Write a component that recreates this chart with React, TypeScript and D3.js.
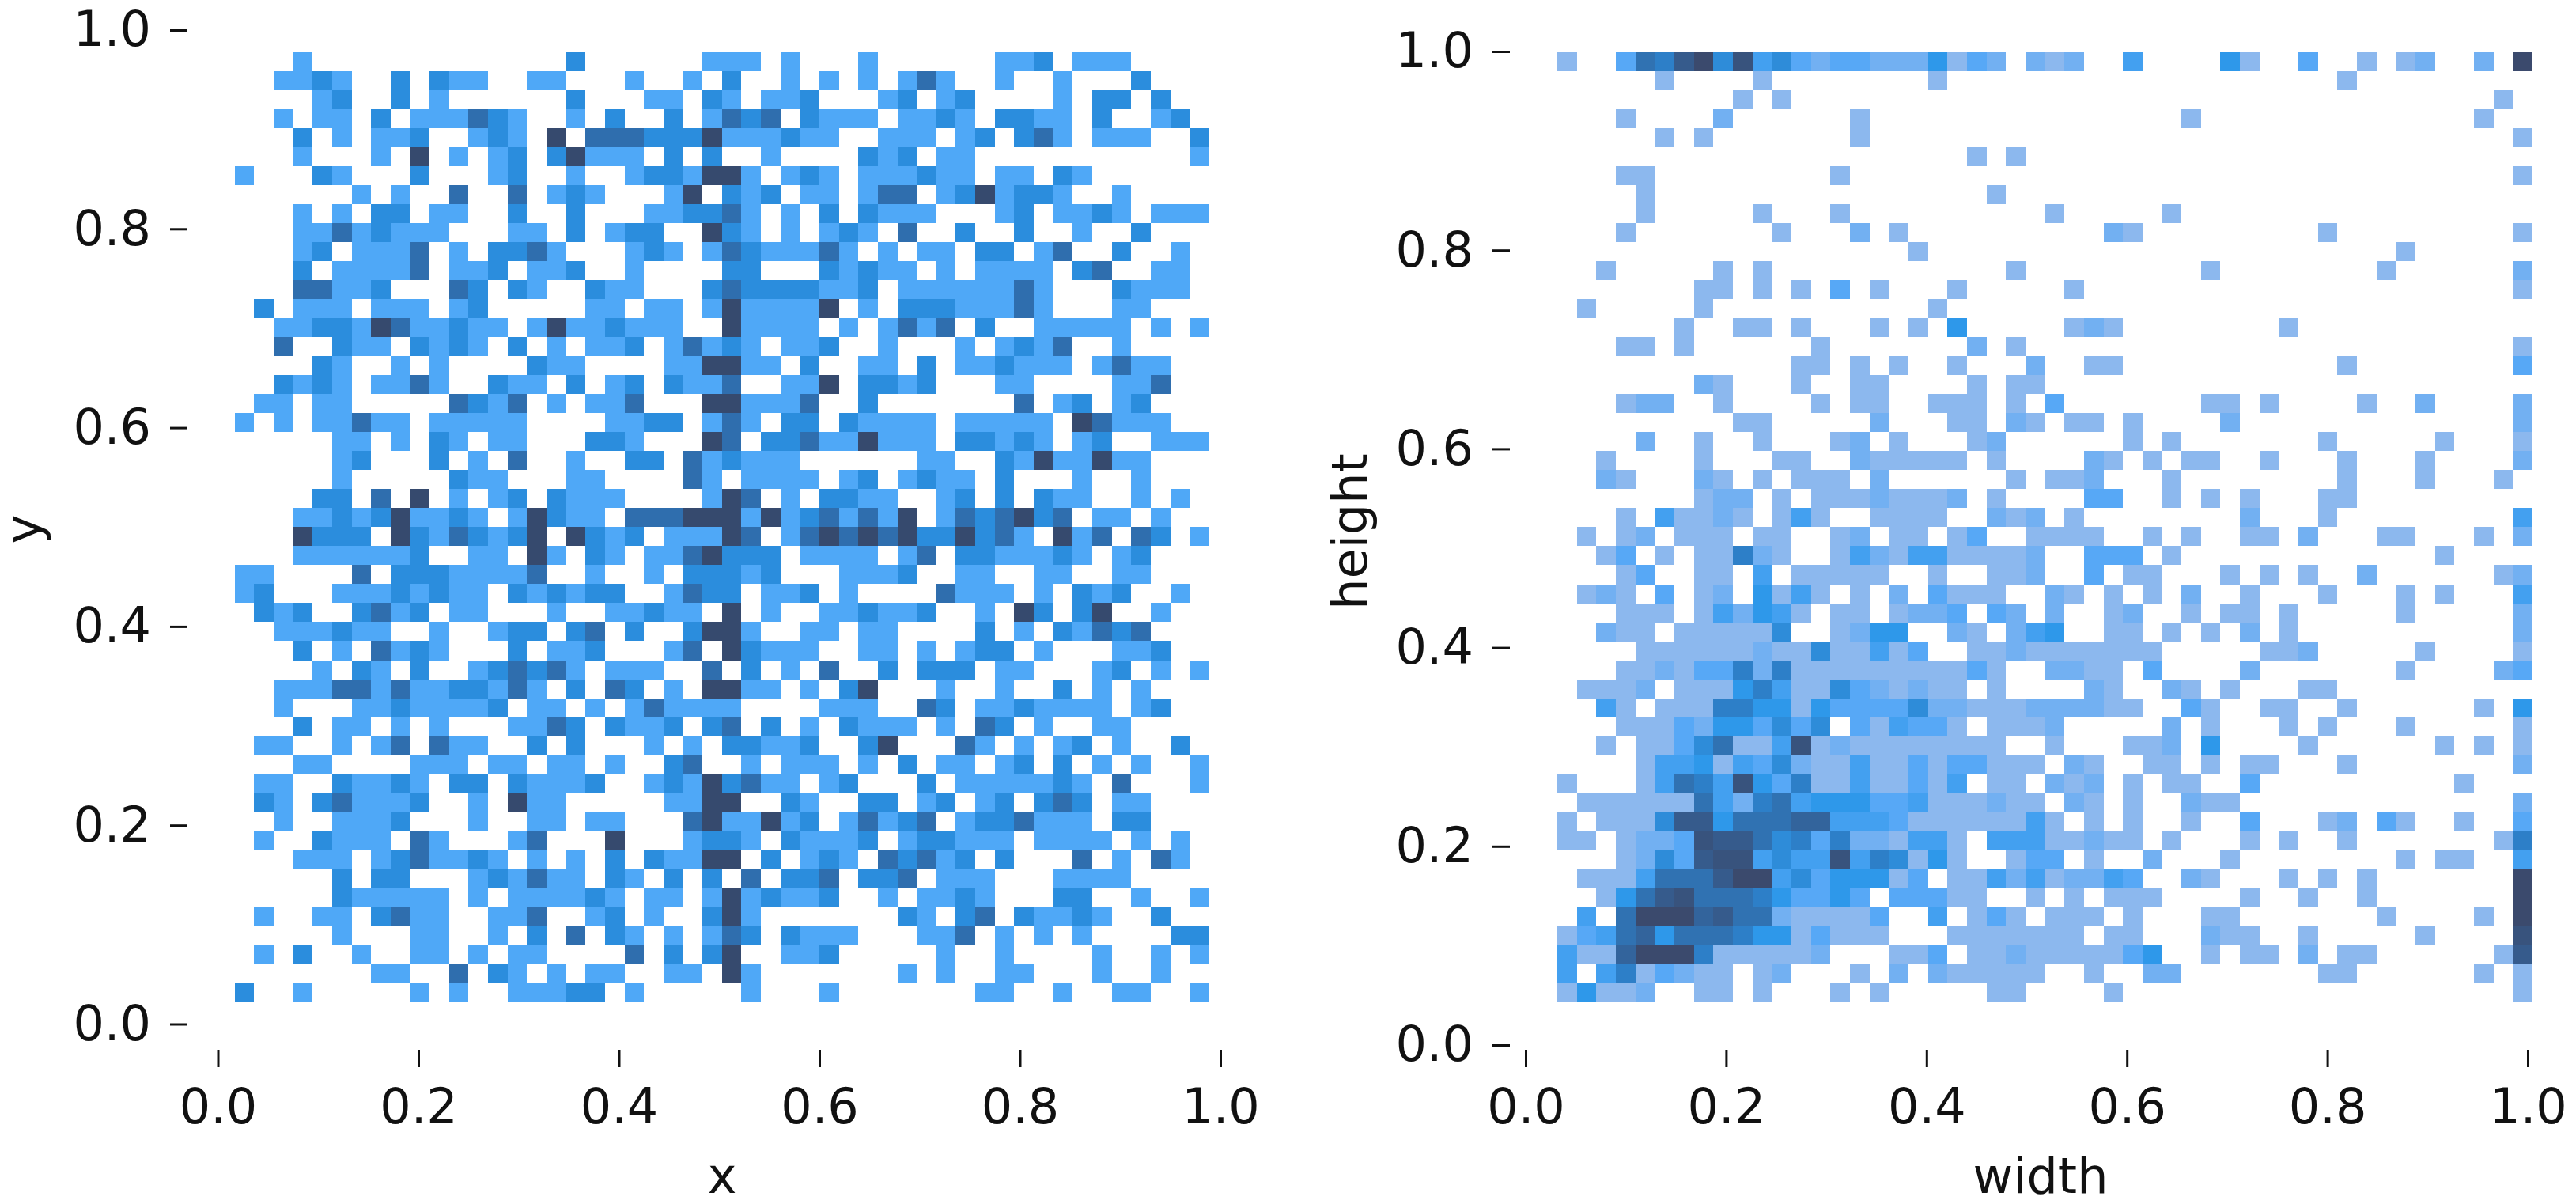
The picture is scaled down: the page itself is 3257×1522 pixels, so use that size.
import React, { useEffect, useRef } from "react";
import * as d3 from "d3";

// each row runs top to bottom, "column:count" for the non-empty bins
const xyRows = [
  "3:1 17:2 24:1 25:1 26:1 28:1 32:1 39:1 40:1 41:2 43:1 44:1 45:1",
  "2:1 3:1 4:2 5:1 8:2 10:2 11:1 12:1 15:1 16:1 20:1 23:1 25:2 28:1 30:1 32:1 34:1 35:3 36:1 39:1 42:1 46:2",
  "4:1 5:2 8:2 10:1 17:2 21:1 22:1 24:2 25:1 27:1 28:1 29:2 33:1 34:2 36:1 37:2 42:1 44:2 45:2 47:2",
  "2:1 4:1 5:1 7:2 9:1 10:1 11:1 12:3 13:2 14:1 17:1 19:2 22:2 24:1 25:3 26:2 27:3 29:2 30:1 31:1 32:1 34:1 35:1 36:2 37:1 39:2 40:2 41:1 42:1 44:2 47:1 48:2",
  "3:2 5:1 7:1 8:1 9:2 12:1 13:2 14:1 16:4 18:3 19:3 20:3 21:2 22:2 23:2 24:4 25:1 26:1 27:1 28:2 29:1 30:1 33:1 34:1 35:1 37:1 38:2 40:2 41:3 42:1 44:1 45:1 46:1 49:2",
  "3:1 7:1 9:4 11:1 13:1 14:2 16:2 17:4 18:1 19:1 20:1 22:2 24:2 27:1 32:2 33:1 34:2 36:1 37:1 49:1",
  "0:1 4:2 5:1 9:2 13:1 14:2 17:1 20:1 21:2 22:2 23:1 24:4 25:4 26:1 28:1 29:2 30:1 32:1 33:1 34:1 35:2 36:1 37:1 39:1 40:1 42:2 43:1",
  "6:1 8:1 11:3 14:3 16:1 17:2 18:1 22:1 23:4 25:2 26:1 27:2 29:1 30:1 32:1 33:3 34:3 36:1 37:2 38:4 39:1 40:2 41:2 42:1 45:1",
  "3:1 5:1 7:2 8:2 10:1 11:1 14:2 17:2 21:1 22:1 23:2 24:2 25:3 26:1 28:1 30:2 32:2 33:1 34:1 35:1 39:1 40:2 42:1 43:1 44:2 45:1 47:1 48:1 49:1",
  "3:1 4:1 5:3 6:1 7:2 8:1 9:1 10:1 14:1 15:1 17:2 19:1 20:2 21:2 24:4 25:2 26:1 28:1 30:1 31:2 32:1 34:3 37:2 40:2 43:1 46:2",
  "3:1 4:2 6:1 7:1 8:1 9:3 11:1 13:2 14:2 15:3 16:1 20:1 21:2 22:1 24:1 25:3 26:2 27:1 28:1 29:1 30:3 31:1 33:1 35:1 36:1 38:2 39:2 41:1 42:3 45:2 48:1",
  "3:2 5:1 6:1 7:1 8:1 9:3 11:1 12:1 13:2 15:1 16:1 17:2 20:1 25:2 26:2 30:2 31:1 32:2 33:1 34:1 36:1 38:1 39:1 40:1 41:1 43:2 44:3 47:1 48:1",
  "3:3 4:3 5:1 6:1 7:2 11:3 12:2 14:2 15:1 18:2 19:1 20:1 24:2 25:3 26:2 27:2 28:2 29:2 30:1 31:1 32:2 34:1 35:1 36:1 37:1 38:1 39:1 40:3 41:1 45:2 46:1 47:1 48:1",
  "1:2 3:1 4:1 5:1 7:1 8:1 9:1 11:1 12:2 18:1 19:1 21:1 22:1 24:1 25:4 26:1 27:1 28:1 29:1 30:4 32:1 34:2 35:2 36:2 37:1 38:1 39:1 40:3 41:1 45:1 46:1",
  "2:1 3:1 4:2 5:2 6:1 7:4 8:3 9:1 10:1 11:2 12:1 13:1 15:1 16:4 17:1 18:1 19:2 20:1 21:1 22:1 25:4 26:1 27:1 28:1 29:1 31:1 33:1 34:3 35:1 36:3 38:2 41:1 42:1 43:1 44:1 45:1 47:1 49:1",
  "2:3 5:2 6:1 7:1 9:2 10:1 11:2 12:1 14:2 16:1 18:1 19:1 20:2 22:1 23:3 24:1 25:2 26:1 28:1 29:1 30:2 33:1 37:1 39:1 40:2 41:1 42:3 45:1",
  "4:2 5:1 8:1 10:1 15:2 16:1 17:1 22:1 23:1 24:4 25:4 26:1 27:1 29:2 32:1 33:1 35:2 37:1 38:1 39:2 40:1 41:1 42:1 44:1 45:3 46:1 47:1",
  "2:2 3:1 4:2 5:1 7:1 8:1 9:3 10:1 13:2 14:1 15:1 17:2 19:1 20:2 22:2 23:1 24:1 25:3 28:1 29:1 30:4 32:2 33:2 34:1 35:2 39:1 40:1 45:1 46:1 47:3",
  "1:1 2:1 4:1 5:1 11:3 12:2 13:1 14:3 16:1 18:1 19:1 20:3 24:4 25:4 26:1 27:1 28:1 29:3 32:2 40:3 42:1 43:2 45:1 46:2",
  "0:1 2:1 4:1 5:1 6:3 7:1 8:1 10:1 11:1 12:1 13:1 14:1 19:1 20:1 21:2 22:2 24:1 25:3 26:1 28:2 29:2 31:2 32:1 33:1 34:1 35:1 37:1 38:1 39:1 40:1 41:1 43:4 44:3 45:1 46:1 47:1",
  "5:1 6:1 8:1 10:2 11:1 13:1 14:1 18:2 19:2 20:1 24:4 25:3 27:2 28:2 29:3 30:1 31:1 32:4 33:1 34:1 35:1 37:2 38:2 39:1 40:2 41:1 43:1 44:2 47:1 48:1 49:1",
  "5:1 6:2 10:2 12:1 14:3 17:1 20:2 21:2 23:3 24:1 25:2 26:1 27:1 28:1 35:1 36:1 39:2 40:1 41:4 42:1 43:1 44:4 45:1 46:1",
  "5:1 11:2 12:1 13:1 17:1 18:1 23:3 24:1 26:1 27:1 28:1 29:1 31:1 32:2 34:1 35:2 36:1 37:1 39:2 43:1 46:1",
  "4:2 5:2 7:3 9:4 11:1 13:1 14:2 16:2 17:1 18:1 19:1 24:1 25:4 26:3 28:1 30:2 31:2 32:1 33:1 36:1 37:2 39:2 41:2 42:1 43:1 46:1 48:1",
  "3:1 4:1 5:2 6:1 7:2 8:4 9:1 10:1 11:2 12:1 14:1 15:4 16:2 17:1 18:1 20:3 21:3 22:3 23:4 24:4 25:4 26:1 27:4 28:1 29:2 30:3 31:1 32:3 33:1 34:4 36:1 37:3 38:2 39:3 40:4 41:2 42:3 44:1 45:1 47:1",
  "3:4 4:2 5:2 6:2 8:4 9:2 10:1 11:3 12:2 13:1 14:2 15:4 17:4 18:2 19:1 20:2 22:1 23:1 24:1 25:4 26:3 28:1 29:3 30:4 31:3 32:4 33:3 34:4 35:2 36:2 37:4 38:2 39:3 40:1 42:4 43:1 44:3 46:3 47:2 49:1",
  "3:1 4:1 5:1 6:1 7:1 8:1 9:2 12:1 13:1 15:4 16:1 18:2 19:1 21:1 22:1 23:3 24:4 25:2 26:2 27:2 29:1 30:1 31:1 32:1 34:1 35:3 37:2 38:2 39:1 40:1 41:1 42:2 43:1 45:1 46:2",
  "0:1 1:1 6:3 8:2 9:2 10:2 11:1 12:1 13:1 14:1 15:3 18:1 21:1 23:2 24:2 25:2 26:1 27:2 31:1 32:1 33:1 34:2 37:1 38:1 41:1 42:1 45:1 46:1",
  "0:1 1:2 5:1 6:1 7:1 8:2 9:1 10:2 11:1 12:1 14:2 15:1 16:2 17:1 18:2 19:2 22:1 23:3 24:2 25:2 27:1 28:1 29:2 31:1 36:3 37:1 38:1 39:1 41:1 43:2 44:1 45:2 48:1",
  "1:2 2:1 3:2 6:2 7:3 8:1 9:2 11:1 12:1 16:1 19:1 20:1 21:2 22:1 23:1 25:4 27:1 30:1 31:1 32:2 33:1 34:1 35:2 38:1 40:4 41:2 43:2 44:4 47:1",
  "2:1 3:1 4:1 5:2 6:1 7:1 10:1 13:1 14:2 15:2 17:2 18:3 20:2 23:2 24:4 25:4 26:1 29:1 30:1 32:1 33:1 38:2 40:1 42:2 43:1 44:3 45:2 46:3",
  "3:2 5:1 7:3 8:1 9:2 10:1 14:2 16:1 17:1 18:2 22:1 23:3 25:4 26:2 27:1 28:1 29:1 32:1 33:1 35:1 37:1 38:2 39:2 41:1 45:1 46:1 47:2",
  "4:1 6:2 7:1 9:2 12:1 13:2 14:3 15:2 16:3 17:1 19:1 20:1 21:1 24:3 26:2 28:1 30:3 33:2 35:2 36:2 37:2 39:1 40:1 44:1 45:2 47:1 49:1",
  "2:1 3:1 4:1 5:3 6:3 7:1 8:3 9:1 10:1 11:2 12:2 13:1 14:3 15:1 17:2 19:3 20:2 22:1 24:4 25:4 26:1 27:1 29:1 31:2 32:4 36:1 39:1 42:2 44:1 46:1",
  "2:1 6:1 7:1 8:2 9:1 10:1 11:1 12:1 13:2 15:1 16:1 18:1 20:1 21:3 22:1 23:1 24:1 25:1 30:1 31:1 32:1 35:3 36:2 38:1 39:1 40:2 41:1 42:1 43:1 44:1 46:1 47:2",
  "3:2 5:1 6:1 8:1 10:1 14:1 15:1 16:3 17:2 19:2 20:1 21:1 22:2 24:2 25:3 27:2 29:1 31:2 32:1 33:1 34:1 36:1 38:3 39:2 41:1 44:1 45:1",
  "1:1 2:1 5:1 7:1 8:3 10:3 11:1 12:1 15:2 17:2 21:1 23:1 25:2 26:2 27:1 28:1 29:2 32:2 33:4 37:3 38:1 40:1 42:1 43:2 45:1 48:2",
  "3:1 4:1 9:1 10:1 11:1 13:1 14:1 16:1 17:1 19:1 22:2 23:3 26:1 28:1 29:1 30:1 32:1 34:2 36:1 37:1 39:1 40:2 42:2 44:1 46:1 49:1",
  "1:1 2:1 5:2 6:1 7:1 8:2 9:1 11:2 12:2 14:2 15:1 16:1 17:1 18:2 21:1 22:2 23:1 24:4 25:2 26:3 27:1 28:1 30:1 31:2 35:2 37:1 38:1 39:1 40:1 41:1 42:2 43:1 45:3 49:1",
  "1:2 2:1 4:2 5:3 6:1 7:1 8:1 9:2 12:1 14:4 15:1 16:1 22:1 23:1 24:4 25:4 28:2 29:1 32:2 33:2 35:1 36:2 38:1 39:2 41:2 42:3 43:2 45:1 46:1",
  "2:1 5:1 6:1 7:1 8:2 12:1 15:1 16:1 18:1 19:1 23:3 24:4 25:1 26:1 27:4 28:1 29:2 31:1 32:3 33:1 34:2 35:3 37:1 38:2 39:2 40:3 41:1 42:1 43:1 45:2 46:2",
  "1:1 4:2 5:1 6:1 7:1 9:3 10:1 14:1 15:3 19:4 23:1 24:2 25:2 26:1 28:2 29:1 30:1 31:1 32:2 34:1 35:2 36:2 37:1 38:1 39:1 41:1 42:1 43:1 44:1 46:1 48:1",
  "3:1 4:1 5:1 7:1 8:2 9:3 10:1 11:1 12:2 13:1 15:1 17:1 19:2 21:2 22:1 23:1 24:4 25:4 27:2 29:1 30:2 31:1 33:3 34:2 35:3 36:1 37:2 39:2 43:3 45:1 47:3 48:1",
  "5:2 7:2 8:2 12:1 13:2 14:1 15:3 16:1 17:1 19:2 20:1 22:2 24:2 26:3 28:2 29:2 30:3 32:2 33:2 34:3 36:1 37:1 38:1 42:1 43:1 44:1 45:1",
  "5:2 6:1 7:1 8:1 9:1 10:1 12:1 14:1 15:1 16:1 17:1 18:2 19:1 21:1 22:1 24:1 25:4 26:1 27:2 28:1 29:1 30:2 33:1 35:1 36:1 37:2 38:1 42:2 43:2 46:1 49:1",
  "1:1 4:1 5:1 7:2 8:3 9:1 10:1 13:1 14:1 15:3 18:1 19:2 21:1 24:2 25:4 26:1 34:2 35:1 37:2 38:3 40:2 41:1 42:1 43:2 44:1 47:2",
  "5:1 9:1 10:1 13:1 15:2 17:3 19:2 20:1 22:1 24:1 25:3 26:2 28:2 29:1 30:1 31:1 35:1 36:1 37:3 39:1 41:1 43:1 48:2 49:2",
  "1:1 3:2 6:1 9:1 10:1 12:1 14:1 15:1 20:3 22:2 24:2 25:4 28:1 29:1 30:2 36:1 39:1 44:1 47:1 49:1",
  "7:1 8:1 11:3 13:2 14:1 16:1 18:1 19:1 22:1 23:1 25:4 26:1 34:1 36:1 39:1 40:1 44:1 47:1",
  "0:2 3:1 9:1 11:1 14:1 15:1 16:1 17:2 18:2 20:1 26:1 30:1 38:1 39:1 42:1 45:1 46:1 49:1",
];

const sizeRows = [
  "0:1 3:3 4:8 5:7 6:10 7:12 8:6 9:11 10:4 11:6 12:3 13:2 14:3 15:3 16:2 17:2 18:2 19:5 20:1 21:3 22:2 24:2 25:1 26:2 29:4 34:5 35:1 38:3 41:1 43:1 44:2 47:2 49:12",
  "5:1 10:1 19:1 40:1",
  "9:1 11:1 48:1",
  "3:1 8:2 15:1 32:1 47:1",
  "5:1 7:1 15:1 49:1",
  "21:1 23:1",
  "3:1 4:1 14:1 49:1",
  "4:1 22:1",
  "4:1 10:1 14:1 25:1 31:1",
  "3:1 11:1 15:2 17:1 28:2 29:1 39:1 49:1",
  "18:1 43:1",
  "2:1 8:1 10:1 23:1 33:1 42:1 49:2",
  "7:1 8:1 10:1 12:1 14:3 16:1 20:1 26:1 49:1",
  "1:1 7:1 19:1",
  "6:1 9:1 10:1 12:1 16:1 18:1 20:5 26:1 27:2 28:1 37:1",
  "3:1 4:1 6:1 13:1 21:2 23:1 49:1",
  "12:1 13:1 15:1 17:1 20:1 24:2 27:1 28:1 40:1 49:3",
  "7:2 8:1 12:1 15:1 16:1 21:1 23:1 24:1",
  "3:1 4:2 5:2 8:1 13:1 15:1 16:1 19:1 20:1 21:1 23:1 25:3 33:1 34:1 36:1 41:1 44:2 49:2",
  "9:1 10:1 16:2 20:1 21:1 23:2 24:1 26:1 27:1 29:1 34:2 49:2",
  "4:2 7:1 10:1 14:1 15:2 17:1 21:1 22:2 29:1 31:1 39:1 45:1 49:1",
  "2:1 7:1 11:1 12:1 15:2 16:1 17:1 18:1 19:1 20:1 22:1 27:2 28:1 30:1 32:1 33:1 36:1 40:1 44:1 49:2",
  "2:2 3:1 7:2 8:1 10:1 12:1 13:1 14:1 16:2 23:1 25:1 26:1 27:2 31:1 40:1 44:1 48:1",
  "7:1 8:2 9:2 11:1 13:1 14:1 15:1 16:2 17:1 18:1 19:1 20:2 22:1 27:3 28:3 31:1 33:1 35:1 39:1 40:1",
  "3:1 5:4 6:1 7:1 8:2 9:1 11:1 12:4 13:1 16:1 17:1 18:1 19:1 22:2 23:1 24:2 26:1 35:2 39:1 49:4",
  "1:1 3:1 4:2 6:1 7:1 8:1 10:1 11:1 14:1 15:2 17:1 18:1 20:1 21:3 24:1 25:1 26:1 27:1 30:1 32:1 35:1 36:1 38:2 42:1 43:1 47:1 49:2",
  "2:1 3:3 5:1 7:1 8:1 9:7 10:2 11:1 14:1 15:4 16:2 17:1 18:4 19:4 20:1 21:1 22:1 23:1 24:2 27:3 28:3 29:3 31:1 45:1",
  "3:1 4:3 7:1 8:1 10:4 12:1 13:1 14:1 15:1 16:1 19:1 22:1 23:1 24:2 27:3 29:1 30:1 34:1 36:1 38:1 41:2 48:1 49:2",
  "1:1 2:2 3:1 5:3 7:1 8:2 10:5 11:1 12:4 13:1 15:1 17:2 19:3 20:1 21:1 22:1 25:2 26:1 28:1 30:1 32:2 35:1 39:1 43:1 45:1 49:4",
  "3:1 4:1 5:1 7:1 8:4 9:2 10:5 11:4 12:1 14:1 15:1 17:1 18:2 19:2 20:3 22:3 23:2 25:2 28:1 29:2 32:1 34:1 35:1 37:1 43:1 49:2",
  "2:2 3:1 4:1 6:1 7:1 8:1 9:1 10:1 11:6 14:1 15:2 16:5 17:5 20:2 21:1 23:2 24:4 25:5 28:1 29:1 31:1 33:1 35:2 37:1 49:2",
  "4:1 5:1 6:1 7:1 8:1 9:1 10:2 11:1 12:1 13:6 14:1 15:1 16:4 17:1 18:3 21:1 22:1 23:2 24:1 25:1 26:1 27:1 28:1 29:1 30:1 36:1 37:1 38:2 44:1 49:1",
  "3:1 4:1 5:2 6:1 7:3 8:3 9:7 10:2 11:7 12:1 13:1 14:1 15:1 16:1 17:1 18:1 19:1 20:1 21:3 22:1 25:2 26:2 27:1 28:1 30:3 35:2 43:1 48:2 49:3",
  "1:1 2:1 3:1 4:2 6:1 7:1 8:1 9:5 10:7 11:4 12:1 13:1 14:6 15:3 16:2 17:1 18:2 19:1 20:1 22:1 27:2 28:1 31:2 32:1 34:1 38:1 39:1",
  "2:4 3:1 5:1 6:1 7:1 8:7 9:7 10:5 11:5 12:1 13:5 14:3 15:3 16:3 17:3 18:6 19:2 20:2 21:1 22:1 23:1 24:2 25:2 26:2 27:2 28:1 29:1 32:3 33:1 36:1 37:1 40:1 47:1 49:5",
  "3:1 4:1 5:1 6:3 7:2 8:5 9:5 10:3 11:6 12:3 13:6 15:3 16:1 17:4 18:3 19:3 20:1 22:1 23:1 24:1 25:2 31:2 33:1 37:1 39:1 43:1 49:1",
  "2:1 4:1 5:1 6:3 7:6 8:8 9:1 10:1 11:4 12:11 13:1 14:2 15:1 16:1 17:1 18:1 19:1 20:1 21:1 22:1 25:1 29:1 30:1 31:2 33:5 38:1 45:1 47:1 49:1",
  "4:1 5:4 6:4 7:5 8:1 9:4 10:3 11:6 12:2 13:1 14:1 15:4 16:1 17:1 18:3 19:1 20:3 21:3 22:1 23:1 24:1 26:2 27:1 30:1 31:1 33:1 35:1 36:1 40:1 49:2",
  "0:1 4:1 5:4 6:8 7:7 8:4 9:11 10:5 11:3 12:7 13:1 14:1 15:4 16:1 17:1 18:3 19:1 20:4 22:1 23:1 25:2 26:1 27:2 29:1 31:1 32:1 35:3 46:1",
  "1:1 2:1 3:1 4:1 5:1 6:1 7:8 8:4 9:2 10:7 11:8 12:4 13:5 14:5 15:5 16:3 17:3 18:4 19:1 20:1 21:1 22:2 23:1 24:1 26:2 27:1 29:1 32:2 33:1 34:1 49:2",
  "0:1 2:1 3:1 4:1 5:6 6:10 7:10 8:5 9:8 10:8 11:8 12:9 13:9 14:4 15:4 16:4 17:3 18:1 19:1 20:1 21:1 22:1 23:1 24:4 25:1 27:1 29:1 32:1 35:3 39:1 40:2 42:3 43:1 46:1 49:3",
  "0:1 1:1 3:1 4:2 5:2 6:3 7:11 8:10 9:10 10:8 11:6 12:7 13:3 14:7 15:2 16:2 17:1 18:4 19:4 20:1 22:4 23:4 24:4 25:1 26:1 27:2 28:1 29:1 31:1 35:1 37:1 40:1 48:1 49:7",
  "3:1 4:2 5:6 6:3 7:10 8:11 9:11 10:4 11:6 12:4 13:4 14:11 15:4 16:7 17:6 18:1 19:5 20:1 23:1 24:3 25:3 27:1 30:2 34:1 43:1 45:1 46:1 49:4",
  "1:1 2:1 3:1 4:4 5:8 6:8 7:8 8:10 9:12 10:12 11:4 12:6 13:3 14:5 15:5 16:5 17:1 18:3 20:1 21:1 22:4 23:2 24:4 25:1 26:2 27:2 28:4 29:3 32:2 33:1 37:1 39:1 41:1 49:12",
  "2:1 3:5 4:8 5:10 6:11 7:8 8:8 9:8 10:7 11:5 12:3 13:3 14:5 15:3 17:3 18:3 19:3 20:1 21:1 24:1 26:1 28:1 29:1 30:1 35:1 38:1 41:1 49:12",
  "1:4 3:8 4:12 5:12 6:12 7:9 8:10 9:8 10:8 11:2 12:1 13:1 14:1 15:1 16:3 19:4 21:1 22:3 23:1 25:1 26:1 27:1 29:1 33:1 34:1 42:1 47:1 49:12",
  "0:1 1:3 2:4 3:8 4:9 5:5 6:8 7:8 8:8 9:7 10:5 11:5 12:1 13:3 14:1 15:1 16:1 20:1 21:1 22:1 23:1 24:1 25:1 26:1 28:1 29:1 33:2 34:1 35:1 38:1 44:1 49:11",
  "0:4 1:1 2:1 3:9 4:12 5:12 6:12 7:7 8:1 9:1 10:1 11:1 12:1 13:2 17:1 18:1 19:3 21:1 22:1 23:2 24:1 25:1 26:1 27:1 28:1 29:3 30:5 33:1 35:1 36:1 38:2 40:1 41:1 48:1 49:10",
  "0:4 2:4 3:7 4:1 5:3 6:2 7:1 8:1 10:1 11:2 15:1 17:2 19:2 20:1 21:1 22:1 23:1 24:1 27:1 30:2 31:2 39:1 40:1 47:1 49:1",
  "0:1 1:5 2:1 3:1 4:2 7:1 8:1 10:1 14:1 16:1 22:1 23:1 28:1 49:1",
];

const tickValues = [0, 0.2, 0.4, 0.6, 0.8, 1];

const xyCounts = [1, 2, 3, 4];
const xyColors = ["#4fa8f7", "#2b8ddd", "#2f6eae", "#364a6e"];
const sizeCounts = [1, 3, 5, 7, 9, 12];
const sizeColors = ["#8cb8ee", "#57a8f6", "#2e98ea", "#2d7fc8", "#33649c", "#3b4a6d"];

const font = "'DejaVu Sans', sans-serif";
const fontSize = 62;
const binCount = 50;

function parseRows(rows: string[]) {
  return rows.flatMap((row, r) =>
    row.split(" ").map(cell => {
      const [col, count] = cell.split(":").map(Number);
      return { r, col, count };
    })
  );
}

function drawPanel(svg: any, o: any) {
  const x = d3.scaleLinear().domain([0, 1]).range(o.xRange);
  const y = d3.scaleLinear().domain([0, 1]).range(o.yRange);
  const colX = d3.scaleLinear().domain([0, binCount]).range(o.xBins);
  const rowY = d3.scaleLinear().domain([0, binCount]).range(o.yBins);
  const color = d3
    .scaleLinear<string>()
    .domain(o.counts)
    .range(o.colors)
    .interpolate(d3.interpolateRgb);

  const g = svg.append("g");

  g.append("g")
    .attr("shape-rendering", "crispEdges")
    .selectAll("rect")
    .data(parseRows(o.rows))
    .join("rect")
    .attr("x", (d: any) => x(colX(d.col)))
    .attr("y", (d: any) => y(rowY(d.r)))
    .attr("width", (d: any) => x(colX(d.col + 1)) - x(colX(d.col)))
    .attr("height", (d: any) => y(rowY(d.r + 1)) - y(rowY(d.r)))
    .attr("fill", (d: any) => color(d.count));

  const xAxis = g
    .append("g")
    .attr("transform", `translate(0,${o.xAxisY})`)
    .call(
      d3
        .axisBottom(x)
        .tickValues(tickValues)
        .tickSize(22)
        .tickPadding(27)
        .tickFormat(d3.format(".1f") as any)
    );
  const yAxis = g
    .append("g")
    .attr("transform", `translate(${o.yAxisX},0)`)
    .call(
      d3
        .axisLeft(y)
        .tickValues(tickValues)
        .tickSize(22)
        .tickPadding(24)
        .tickFormat(d3.format(".1f") as any)
    );

  [xAxis, yAxis].forEach(axis => {
    axis.select(".domain").remove();
    axis.attr("font-family", font).attr("font-size", fontSize);
    axis.selectAll("line").attr("stroke", "#111").attr("stroke-width", 3);
    axis.selectAll("text").attr("fill", "#111");
  });

  g.append("text")
    .attr("x", o.xLabelX)
    .attr("y", 1508)
    .attr("text-anchor", "middle")
    .attr("font-family", font)
    .attr("font-size", fontSize)
    .attr("fill", "#111")
    .text(o.xLabel);

  g.append("text")
    .attr("transform", `translate(${o.yLabelX},${o.yLabelY}) rotate(-90)`)
    .attr("text-anchor", "middle")
    .attr("font-family", font)
    .attr("font-size", fontSize)
    .attr("fill", "#111")
    .text(o.yLabel);
}

export default function App() {
  const ref = useRef<SVGSVGElement>(null);

  useEffect(() => {
    const svg = d3.select(ref.current);
    svg.selectAll("*").remove();

    drawPanel(svg, {
      rows: xyRows,
      counts: xyCounts,
      colors: xyColors,
      xRange: [275.5, 1543],
      yRange: [1294.5, 38],
      xBins: [0.0168, 0.0168 + 0.01944 * binCount],
      yBins: [0.978, 0.0219],
      xAxisY: 1327,
      yAxisX: 237,
      xLabel: "x",
      yLabel: "y",
      xLabelX: 913,
      yLabelX: 51,
      yLabelY: 669,
    });

    drawPanel(svg, {
      rows: sizeRows,
      counts: sizeCounts,
      colors: sizeColors,
      xRange: [1929, 3196],
      yRange: [1321, 65],
      xBins: [0.0317, 0.0317 + 0.01946 * binCount],
      yBins: [0.9994, 0.0429],
      xAxisY: 1327,
      yAxisX: 1909,
      xLabel: "width",
      yLabel: "height",
      xLabelX: 2580,
      yLabelX: 1728,
      yLabelY: 672,
    });
  }, []);

  return (
    <svg
      ref={ref}
      width={3257}
      height={1522}
      style={{ position: "absolute", left: 0, top: 0, background: "#fff" }}
    />
  );
}
